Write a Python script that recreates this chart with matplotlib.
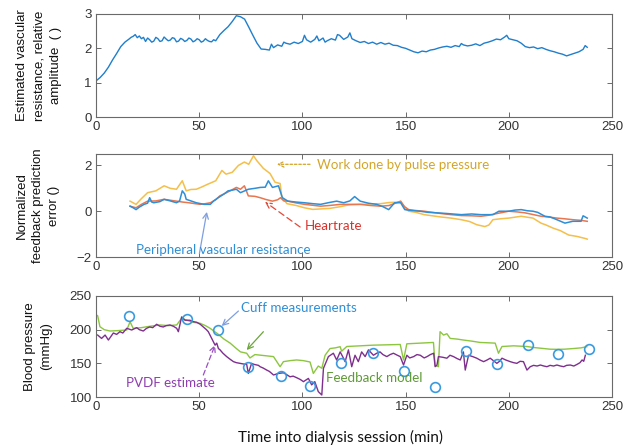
import matplotlib
matplotlib.use("Agg")
import matplotlib.pyplot as plt
import numpy as np

# ---------------- data ----------------
# Top panel: estimated vascular resistance (relative amplitude)
vr_t = [0, 2, 4, 6, 8, 10, 12, 14, 16, 17, 18, 19, 20, 21, 22, 23, 24, 25, 26, 27,
        28, 29, 30, 31, 32, 33, 34, 35, 36, 37, 38, 39, 40, 41, 42, 43, 44, 45, 46,
        47, 48, 49, 50, 51, 52, 53, 54, 55, 56, 57, 58, 60, 62, 64, 66, 68, 70, 72,
        74, 76, 78, 80, 82, 84, 85, 86, 88, 90, 91, 92, 94, 96, 98, 100, 101, 102,
        104, 106, 107, 108, 110, 111, 112, 114, 116, 117, 118, 120, 122, 123, 124,
        126, 128, 130, 132, 134, 136, 138, 140, 142, 144, 146, 148, 150, 152, 154,
        156, 158, 160, 162, 164, 166, 168, 170, 172, 174, 176, 177, 178, 180, 182,
        184, 186, 188, 190, 192, 194, 196, 198, 199, 200, 202, 204, 206, 208, 210,
        212, 214, 216, 218, 220, 222, 224, 226, 228, 230, 232, 234, 236, 237, 238]
vr_v = [1.05, 1.15, 1.28, 1.45, 1.66, 1.85, 2.05, 2.18, 2.27, 2.32, 2.35, 2.40,
        2.31, 2.36, 2.28, 2.32, 2.20, 2.30, 2.25, 2.18, 2.21, 2.32, 2.28, 2.20,
        2.22, 2.33, 2.27, 2.22, 2.24, 2.31, 2.29, 2.19, 2.21, 2.29, 2.26, 2.20,
        2.23, 2.30, 2.27, 2.19, 2.22, 2.28, 2.25, 2.18, 2.21, 2.28, 2.23, 2.20,
        2.19, 2.25, 2.22, 2.40, 2.52, 2.63, 2.78, 2.95, 2.92, 2.85, 2.62, 2.38,
        2.15, 1.98, 1.97, 1.95, 2.12, 2.02, 2.10, 2.06, 2.18, 2.15, 2.12, 2.18,
        2.14, 2.20, 2.38, 2.25, 2.18, 2.26, 2.36, 2.22, 2.30, 2.18, 2.22, 2.28,
        2.24, 2.40, 2.38, 2.26, 2.33, 2.45, 2.28, 2.22, 2.17, 2.20, 2.14, 2.18,
        2.12, 2.17, 2.12, 2.15, 2.09, 2.08, 2.03, 2.00, 1.95, 1.90, 1.87, 1.92,
        1.90, 1.95, 1.97, 2.01, 2.04, 2.06, 2.03, 2.08, 2.05, 2.14, 2.10, 2.07,
        2.09, 2.13, 2.08, 2.15, 2.18, 2.22, 2.27, 2.25, 2.33, 2.38, 2.28, 2.25,
        2.22, 2.15, 2.05, 2.02, 2.04, 1.99, 2.02, 1.97, 1.93, 1.90, 1.86, 1.83,
        1.78, 1.82, 1.86, 1.90, 1.97, 2.08, 2.03]

# Middle panel: normalized feedback prediction error
work_t = [16.5, 19.4, 22, 25, 29, 33, 36, 39, 41.8, 43.7, 46, 48.6, 51, 54.4, 58,
          61, 63, 66, 69, 71.9, 74, 76.3, 78, 81.1, 84.3, 86.7, 89.2, 90, 92.5,
          97, 101, 105, 108.8, 113, 118.5, 121.5, 123, 128, 133, 138, 142, 146.7,
          147.6, 149.5, 151.5, 155, 159, 163, 167, 172, 177, 181, 184.5, 188.4,
          190.4, 192.3, 196, 200, 206, 211.7, 215.6, 218, 221.5, 225, 229, 233,
          237, 238]
work_v = [0.44, 0.30, 0.55, 0.81, 0.89, 1.11, 1.00, 0.96, 1.33, 0.89, 0.95, 0.96,
          1.05, 1.19, 1.33, 1.78, 1.62, 1.70, 2.00, 2.15, 2.05, 2.42, 2.20, 1.87,
          1.65, 1.27, 1.21, 0.63, 0.33, 0.25, 0.15, 0.08, 0.10, 0.12, 0.20, 0.26,
          0.28, 0.30, 0.32, 0.33, 0.38, 0.40, 0.42, 0.15, 0.00, -0.05, -0.15,
          -0.20, -0.25, -0.30, -0.37, -0.45, -0.59, -0.67, -0.60, -0.37, -0.33,
          -0.30, -0.22, -0.30, -0.52, -0.60, -0.74, -0.85, -1.04, -1.10, -1.19,
          -1.22]

pvr_t = [16.5, 18, 19.4, 21, 23.3, 25, 26, 27, 28, 31, 33, 36, 39, 40.5, 41.8, 43,
         43.7, 46, 48.6, 52.4, 55.4, 57, 59.2, 62, 64, 66, 68, 70, 73.8, 77, 79.6,
         82, 83.5, 85.5, 88.4, 90.3, 93, 97, 101, 105, 108.8, 113, 116.6, 120, 123,
         125.3, 128, 132, 136, 139, 141.8, 144.7, 147.6, 149.6, 153, 157, 161, 165,
         170, 177, 182, 186.5, 192.3, 195.2, 200, 203, 206, 209, 211.7, 214, 217.5,
         220, 223.3, 227.2, 231, 235, 236, 238]
pvr_v = [0.22, 0.15, 0.07, 0.18, 0.30, 0.35, 0.59, 0.40, 0.37, 0.42, 0.52, 0.45,
         0.37, 0.45, 0.89, 0.75, 0.52, 0.45, 0.37, 0.30, 0.30, 0.45, 0.59, 0.75,
         0.89, 0.92, 0.96, 0.81, 0.96, 1.00, 1.04, 1.05, 1.33, 1.04, 1.11, 0.59,
         0.44, 0.40, 0.37, 0.33, 0.30, 0.38, 0.44, 0.37, 0.45, 0.64, 0.44, 0.35,
         0.30, 0.20, 0.07, 0.37, 0.37, 0.07, 0.03, 0.00, -0.05, -0.07, -0.10,
         -0.15, -0.12, -0.15, -0.15, 0.00, 0.00, 0.05, 0.07, 0.02, 0.00, -0.05,
         -0.22, -0.25, -0.37, -0.52, -0.44, -0.44, -0.20, -0.30]

hr_t = [16.5, 19.4, 22, 25, 29, 33, 36, 39, 42, 45, 48, 50.5, 53, 55.4, 58, 60, 63,
        65, 68, 70, 71.9, 73.8, 77, 79.6, 82, 85.5, 88, 89.4, 91, 93, 97, 101, 105,
        108.8, 113, 118.5, 123, 128, 133, 138, 142, 145, 147.6, 149.5, 151.5, 155,
        159, 163, 167, 172, 177, 182, 186.5, 190, 194.3, 200, 204, 207.8, 212,
        215.6, 219, 223.3, 227, 231, 235, 238]
hr_v = [0.22, 0.15, 0.30, 0.44, 0.45, 0.52, 0.48, 0.44, 0.40, 0.37, 0.33, 0.30,
        0.33, 0.37, 0.50, 0.67, 0.80, 0.89, 1.04, 0.96, 1.11, 0.67, 0.65, 0.59,
        0.52, 0.44, 0.50, 0.59, 0.45, 0.44, 0.36, 0.30, 0.26, 0.22, 0.25, 0.30,
        0.30, 0.30, 0.25, 0.22, 0.25, 0.35, 0.44, 0.20, 0.07, 0.03, 0.00, -0.05,
        -0.10, -0.15, -0.19, -0.20, -0.22, -0.18, -0.10, 0.00, -0.03, -0.07,
        -0.15, -0.22, -0.25, -0.30, -0.33, -0.37, -0.40, -0.44]

# Bottom panel: blood pressure
cuff_t = [15.9, 43.9, 59.2, 73.8, 89.4, 103.9, 118.9, 134, 149.2, 164.1, 179.1,
          194.2, 209.2, 223.9, 238.9]
cuff_v = [220.5, 216.5, 199.3, 145, 130.5, 115.7, 151, 166, 139, 114.7, 169, 149,
          177, 163.4, 171.3]

fb_t = [0, 0.8, 1.9, 4, 6.8, 10, 14.9, 16.5, 18, 22, 26, 31, 35, 39.1, 41.5, 44, 47,
        50.4, 53, 55.3, 59.3, 62, 65, 68, 70, 73, 74.6, 77, 80, 86, 89.2, 90.8, 94,
        97.2, 100.5, 103.7, 105.3, 107.7, 109.4, 111, 113.4, 116, 118.3, 119, 121.5,
        128, 134.4, 141, 147.4, 149, 150.6, 157, 163.5, 164.3, 165.9, 166.7, 168.4,
        170, 171.6, 175, 178, 182, 186.1, 190, 193.4, 195, 196.7, 202.3, 208.8, 212,
        215.3, 220, 223.3, 227, 231.4, 235, 237.8]
fb_v = [222, 220.8, 204.4, 200, 198, 198.5, 199.5, 211.8, 202, 203, 205, 207, 206,
        207, 217, 214, 211, 209.5, 206, 202, 193, 186, 180, 172, 167, 165, 158, 163,
        162, 160, 145, 152.5, 154, 155, 154, 152, 135, 146, 142.7, 162, 172, 173,
        174.7, 168, 175, 176, 177, 177.5, 178, 155, 179, 180, 181, 147, 145, 197,
        192, 194, 187, 186, 184.6, 183, 181, 180.5, 180, 165, 175, 176, 175, 173.5,
        172.5, 171, 170.8, 171, 172, 173, 174.7]

pvdf_t = [0.8, 2.7, 4.4, 6, 8.4, 10, 11.6, 13, 14.9, 17.3, 19.7, 21, 22.9, 24.5, 26,
          27.5, 29.4, 31, 32.6, 34, 35.8, 37.5, 39.1, 39.9, 41.5, 43.1, 45.5, 47,
          48.8, 50.5, 52, 53.5, 54.4, 56.9, 57.7, 58.5, 59.3, 60.1, 61.5, 63.3, 65,
          66.6, 68, 69.8, 71.5, 73, 73.8, 75.4, 76.5, 78.7, 79.5, 81, 82.7, 84, 86,
          88.4, 90.8, 92.5, 94, 95.5, 97.2, 99, 100.5, 102.9, 104.5, 106, 107.7,
          109.4, 110.2, 111.5, 112.6, 114, 115, 116.6, 118.3, 119.5, 120.7, 122.3,
          123.9, 125.5, 127.1, 128.7, 130.4, 132, 134.4, 136, 137.6, 139, 140.9,
          142.5, 144.1, 146, 147.4, 149, 150.6, 152, 153.9, 155.5, 157.1, 159,
          160.4, 162, 163.6, 164.3, 165.2, 165.9, 168, 170, 171.5, 173.2, 175, 176.5,
          178, 178.9, 180.5, 182.5, 184.5, 186, 187.8, 189.5, 191, 192.5, 194.2,
          195.5, 196.7, 198.5, 200.7, 202.3, 203.9, 205.5, 207.1, 208.8, 210.4, 212,
          213.7, 215.3, 217, 218.5, 220, 221.7, 223.3, 225, 226.6, 228, 229.8, 231.5,
          233.1, 234.5, 235.5, 236.3, 237.1]
pvdf_v = [192, 187, 192, 184.6, 195, 193, 197, 195, 202, 199.5, 203, 200, 198, 202,
          204, 203, 208, 205, 204, 206, 207, 205, 202, 197, 219, 214, 214, 212, 211,
          208, 204, 200, 197, 182, 177, 180, 172, 170, 165, 160, 156, 152.5, 151,
          150, 149, 148.5, 135, 150, 148.5, 147, 145, 143, 140, 138, 132.7, 135, 136,
          133, 130, 131, 128.7, 126, 122.8, 127.6, 118, 122.8, 108, 103, 142.6, 152,
          160, 163, 165, 155, 167, 160, 152.5, 170, 145, 162, 152.5, 167, 160, 170,
          162, 165, 167, 163, 160, 163, 165, 162, 160, 147.5, 162, 158, 160, 163, 162,
          158, 160, 163, 165, 145, 147.5, 160, 159, 157.6, 162, 160, 157, 155, 167,
          140, 162, 160, 157.6, 155, 152.5, 155, 157.6, 154, 150, 153, 157.6, 155,
          152.5, 151, 150, 153, 152.5, 140, 145, 147, 146, 147.5, 146, 145, 147, 146,
          147.5, 146, 145, 147, 147.5, 146, 148.5, 151, 155, 153, 162]

x_ticks = [0, 50, 100, 150, 200, 250]

# ---------------- style ----------------
W, H = 628, 448
fig = plt.figure(figsize=(W / 100, H / 100), dpi=100)
fig.patch.set_facecolor("white")

tick_font = "Liberation Sans"
ann_font = "Lato"
spine_c = "#6a6a6a"
tick_c = "#333333"


def px_axes(x0, y0, x1, y1):
    return fig.add_axes([x0 / W, 1 - y1 / H, (x1 - x0) / W, (y1 - y0) / H])


def style(ax):
    ax.set_xlim(0, 250)
    ax.set_xticks(x_ticks)
    for s in ax.spines.values():
        s.set_color(spine_c)
        s.set_linewidth(0.8)
    ax.tick_params(direction="in", top=True, right=True, length=3.5, width=0.7,
                   color=spine_c, labelcolor=tick_c, labelsize=9.5, pad=3)
    for lab in ax.get_xticklabels() + ax.get_yticklabels():
        lab.set_fontfamily(tick_font)


ax1 = px_axes(96, 14, 612, 117)
ax2 = px_axes(96, 154, 612, 257)
ax3 = px_axes(96, 296, 612, 397)

# Top
ax1.plot(vr_t, vr_v, color="#1f7fcc", lw=1.0)
ax1.set_ylim(0, 3)
ax1.set_yticks([0, 1, 2, 3])
style(ax1)

# Middle
ax2.plot(work_t, work_v, color="#f4bf4a", lw=1.1)
ax2.plot(hr_t, hr_v, color="#e8764f", lw=1.1)
ax2.plot(pvr_t, pvr_v, color="#2e8ed6", lw=1.1)
ax2.set_ylim(-2, 2.5)
ax2.set_yticks([-2, 0, 2])
style(ax2)

ann_size = 9.6
ax2.annotate("", xy=(87.7, 2.05), xytext=(103.7, 2.05),
             arrowprops=dict(arrowstyle="->", color="#d4a52a", lw=0.9,
                             linestyle=(0, (2, 1.5)), shrinkA=0, shrinkB=0))
ax2.text(107, 2.02, "Work done by pulse pressure", color="#d4a52a",
         fontsize=ann_size, family=ann_font, va="center", ha="left")
ax2.annotate("", xy=(81.9, 0.41), xytext=(98.9, -0.69),
             arrowprops=dict(arrowstyle="->", color="#e04a3a", lw=0.9,
                             linestyle=(0, (5, 3)), shrinkA=0, shrinkB=0))
ax2.text(101, -0.66, "Heartrate", color="#d9302a", fontsize=ann_size,
         family=ann_font, va="center", ha="left")
ax2.annotate("", xy=(53.7, -0.03), xytext=(50.1, -1.85),
             arrowprops=dict(arrowstyle="->", color="#7f9fe0", lw=0.9,
                             shrinkA=0, shrinkB=0))
ax2.text(19.4, -1.68, "Peripheral vascular resistance", color="#2e8ed6",
         fontsize=ann_size, family=ann_font, va="center", ha="left")

# Bottom
ax3.plot(fb_t, fb_v, color="#8cc63f", lw=1.0)
ax3.plot(pvdf_t, pvdf_v, color="#7e2f8e", lw=1.0)
ax3.plot(cuff_t, cuff_v, linestyle="none", marker="o", markersize=7,
         markerfacecolor="none", markeredgecolor="#3a9ae0", markeredgewidth=1.2)
ax3.set_ylim(100, 250)
ax3.set_yticks([100, 150, 200, 250])
style(ax3)

ax3.annotate("", xy=(60.9, 205.4), xytext=(69, 227.7),
             arrowprops=dict(arrowstyle="->", color="#7f9fe0", lw=0.9,
                             shrinkA=0, shrinkB=0))
ax3.text(70.3, 232.6, "Cuff measurements", color="#2e8ed6", fontsize=ann_size,
         family=ann_font, va="center", ha="left")
ax3.annotate("", xy=(73, 169.8), xytext=(81.1, 197),
             arrowprops=dict(arrowstyle="->", color="#6ba53a", lw=0.9,
                             shrinkA=0, shrinkB=0))
ax3.annotate("", xy=(57.7, 177.2), xytext=(52, 132.7),
             arrowprops=dict(arrowstyle="->", color="#9a4fc0", lw=0.9,
                             linestyle=(0, (4, 2.5)), shrinkA=0, shrinkB=0))
ax3.text(14.4, 121.2, "PVDF estimate", color="#8e3daf", fontsize=ann_size,
         family=ann_font, va="center", ha="left")
ax3.text(111.5, 128.7, "Feedback model", color="#5e9a35", fontsize=ann_size,
         family=ann_font, va="center", ha="left")

# Labels
lab_kw = dict(rotation=90, ha="center", va="center", fontsize=9.5,
              family=tick_font, color="#111111", linespacing=1.5)
fig.text(39 / W, 1 - 65.5 / H,
         "Estimated vascular\nresistance, relative\namplitude  ( )", **lab_kw)
fig.text(38 / W, 1 - 205.5 / H,
         "Normalized\nfeedback prediction\nerror ()", **lab_kw)
fig.text(38 / W, 1 - 346.5 / H, "Blood pressure\n(mmHg)", **lab_kw)
fig.text(340 / W, 1 - 437 / H, "Time into dialysis session (min)",
         ha="center", va="center", fontsize=11, family=ann_font, color="#111111")

fig.savefig("out.png", dpi=100, facecolor="white")
